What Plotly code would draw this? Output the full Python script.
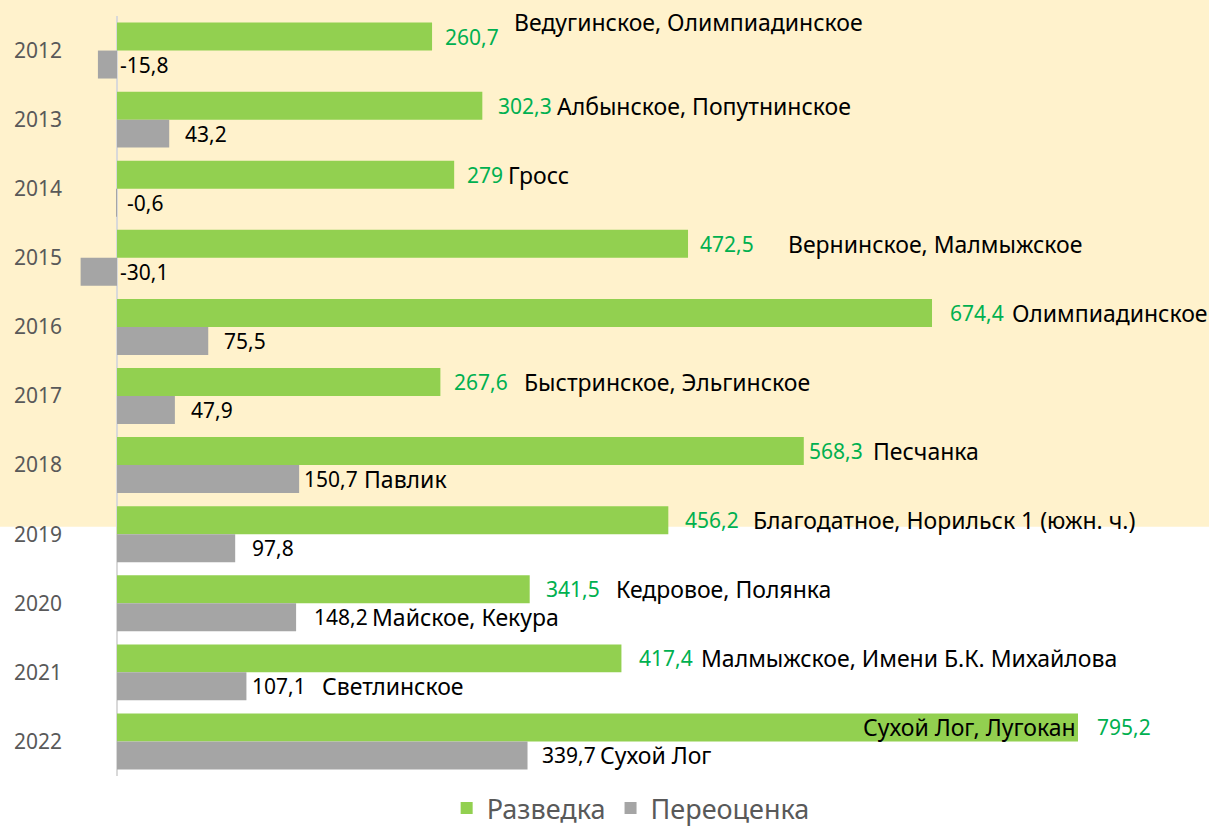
import plotly.graph_objects as go

years = ['2012', '2013', '2014', '2015', '2016', '2017', '2018', '2019', '2020', '2021', '2022']
razvedka = [260.7, 302.3, 279, 472.5, 674.4, 267.6, 568.3, 456.2, 341.5, 417.4, 795.2]
pereocenka = [-15.8, 43.2, -0.6, -30.1, 75.5, 47.9, 150.7, 97.8, 148.2, 107.1, 339.7]
razv_names = ['Ведугинское, Олимпиадинское', 'Албынское, Попутнинское', 'Гросс',
              'Вернинское, Малмыжское', 'Олимпиадинское', 'Быстринское, Эльгинское',
              'Песчанка', 'Благодатное, Норильск 1 (южн. ч.)', 'Кедровое, Полянка',
              'Малмыжское, Имени Б.К. Михайлова', 'Сухой Лог, Лугокан']
pere_names = ['', '', '', '', '', '', 'Павлик', '', 'Майское, Кекура', 'Светлинское', 'Сухой Лог']

# label offsets in px (style only)
razv_val_shift = [11, 14, 11, 10, 16, 12, 3, 15, 14, 16, 17]
razv_name_shift = [80, 73, 52, 98, 78, 82, 67, 83, 84, 78, 0]
razv_name_yshift = [29, 14, 14, 14, 14, 14, 14, 14, 14, 14, 14]
pere_val_shift = [1, 14, 8, 1, 14, 14, 3, 15, 16, 4, 12]
pere_name_shift = [0, 0, 0, 0, 0, 0, 63, 0, 74, 74, 70]

GREEN = '#92D050'
GREY = '#A5A5A5'
FONT = 'Noto Sans'
VAL_SIZE = 21
NAME_SIZE = 23

fmt = lambda v: ('%g' % v).replace('.', ',')

L = 75
k = 1.2085  # px per unit
x_range = [-(117 - L) / k, (1209 - 117) / k]
pos = list(range(len(years)))

fig = go.Figure()
fig.add_trace(go.Bar(y=pos, x=razvedka, orientation='h', name='Разведка',
                     marker=dict(color=GREEN, line=dict(width=0))))
fig.add_trace(go.Bar(y=pos, x=pereocenka, orientation='h', name='Переоценка',
                     marker=dict(color=GREY, line=dict(width=0))))

ann = []
for i in pos:
    v = razvedka[i]
    ann.append(dict(x=v, y=i, text=fmt(v), xanchor='left', xshift=razv_val_shift[i], yshift=14,
                    font=dict(color='#00B050', size=VAL_SIZE, family=FONT)))
    if i == len(years) - 1:
        ann.append(dict(x=v, y=i, text=razv_names[i], xanchor='right', xshift=0, yshift=14,
                        font=dict(color='black', size=NAME_SIZE, family=FONT)))
    else:
        ann.append(dict(x=v, y=i, text=razv_names[i], xanchor='left', xshift=razv_name_shift[i],
                        yshift=razv_name_yshift[i], font=dict(color='black', size=NAME_SIZE, family=FONT)))
    p = pereocenka[i]
    ann.append(dict(x=max(p, 0), y=i, text=fmt(p), xanchor='left', xshift=pere_val_shift[i], yshift=-14,
                    font=dict(color='black', size=VAL_SIZE, family=FONT)))
    if pere_names[i]:
        ann.append(dict(x=p, y=i, text=pere_names[i], xanchor='left', xshift=pere_name_shift[i], yshift=-14,
                        font=dict(color='black', size=NAME_SIZE, family=FONT)))
for a in ann:
    a['showarrow'] = False
    a['xref'] = 'x'
    a['yref'] = 'y'
    a['yanchor'] = 'middle'

fig.update_layout(
    width=1209, height=833,
    margin=dict(l=L, r=0, t=16, b=57),
    barmode='group', bargap=0.19, bargroupgap=0,
    paper_bgcolor='white', plot_bgcolor='rgba(0,0,0,0)',
    font=dict(family=FONT, color='#595959'),
    annotations=ann,
    shapes=[dict(type='rect', xref='paper', yref='paper', x0=-L / 1134, x1=1, y0=0.328, y1=1.03,
                 fillcolor='#FFF2CC', line=dict(width=0), layer='below')],
    legend=dict(orientation='h', x=0.49, xanchor='center', y=-0.075, yanchor='bottom',
                font=dict(size=27, color='#595959', family=FONT), traceorder='normal'),
    showlegend=True,
)
fig.update_xaxes(range=x_range, showgrid=False, showticklabels=False, zeroline=True,
                 zerolinecolor='#D9D9D9', zerolinewidth=2, showline=False)
fig.update_yaxes(range=[len(years) - 0.5, -0.5], tickmode='array', tickvals=pos, ticktext=years,
                 showgrid=False, showline=False, zeroline=False,
                 tickfont=dict(size=21, color='#595959', family=FONT), ticks='', ticklabelstandoff=12)

fig.write_html("out.html", config={'displayModeBar': False},
               post_script="document.body.style.margin='0';")
